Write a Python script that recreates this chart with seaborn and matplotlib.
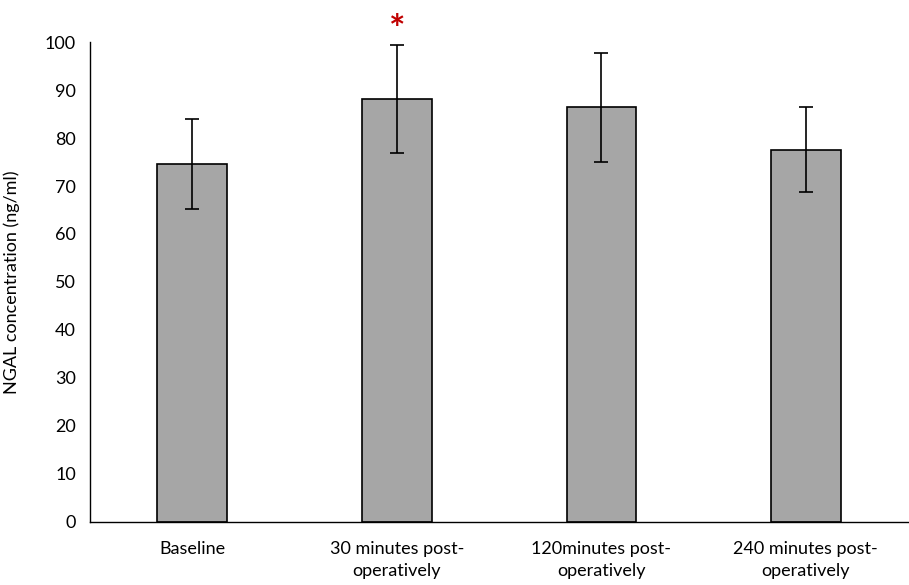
import matplotlib
matplotlib.use("Agg")
import matplotlib.pyplot as plt
import pandas as pd
import seaborn as sns

categories = ["Baseline", "30 minutes post-\noperatively",
              "120minutes post-\noperatively", "240 minutes post-\noperatively"]
means = [74.6, 88.1, 86.4, 77.6]
errors = [9.4, 11.3, 11.4, 8.9]
significant = [False, True, False, False]

df = pd.DataFrame({"time": categories, "ngal": means})

sns.set_theme(style="white")
plt.rcParams["font.family"] = ["Lato", "DejaVu Sans"]

fig = plt.figure(figsize=(9.09, 5.85), dpi=100)
ax = fig.add_axes([0.099, 0.1077, 0.9, 0.8205])

sns.barplot(data=df, x="time", y="ngal", color="#a6a6a6", edgecolor="black",
            linewidth=1.2, width=0.34, errorbar=None, saturation=1, ax=ax)
ax.errorbar(range(len(means)), means, yerr=errors, fmt="none",
            ecolor="black", elinewidth=1.2, capsize=5, capthick=1.2)

for i, sig in enumerate(significant):
    if sig:
        ax.text(i, means[i] + errors[i] + 3.0, "*", color="#c00000",
                fontsize=28, fontweight="bold", ha="center", va="center")

ax.set_ylim(0, 100)
ax.set_xlim(-0.5, 3.5)
ax.set_yticks(range(0, 101, 10))
ax.set_xlabel("")
ax.set_ylabel("NGAL concentration (ng/ml)", fontsize=13, color="black", labelpad=18)
ax.tick_params(axis="both", length=0, labelsize=13, colors="black")
ax.tick_params(axis="y", pad=10)
ax.tick_params(axis="x", pad=14)
for lbl in ax.get_xticklabels():
    lbl.set_linespacing(1.4)
sns.despine(ax=ax, top=True, right=True)
for s in ["left", "bottom"]:
    ax.spines[s].set_color("black")
    ax.spines[s].set_linewidth(1.0)

fig.savefig("out.png", dpi=100)
